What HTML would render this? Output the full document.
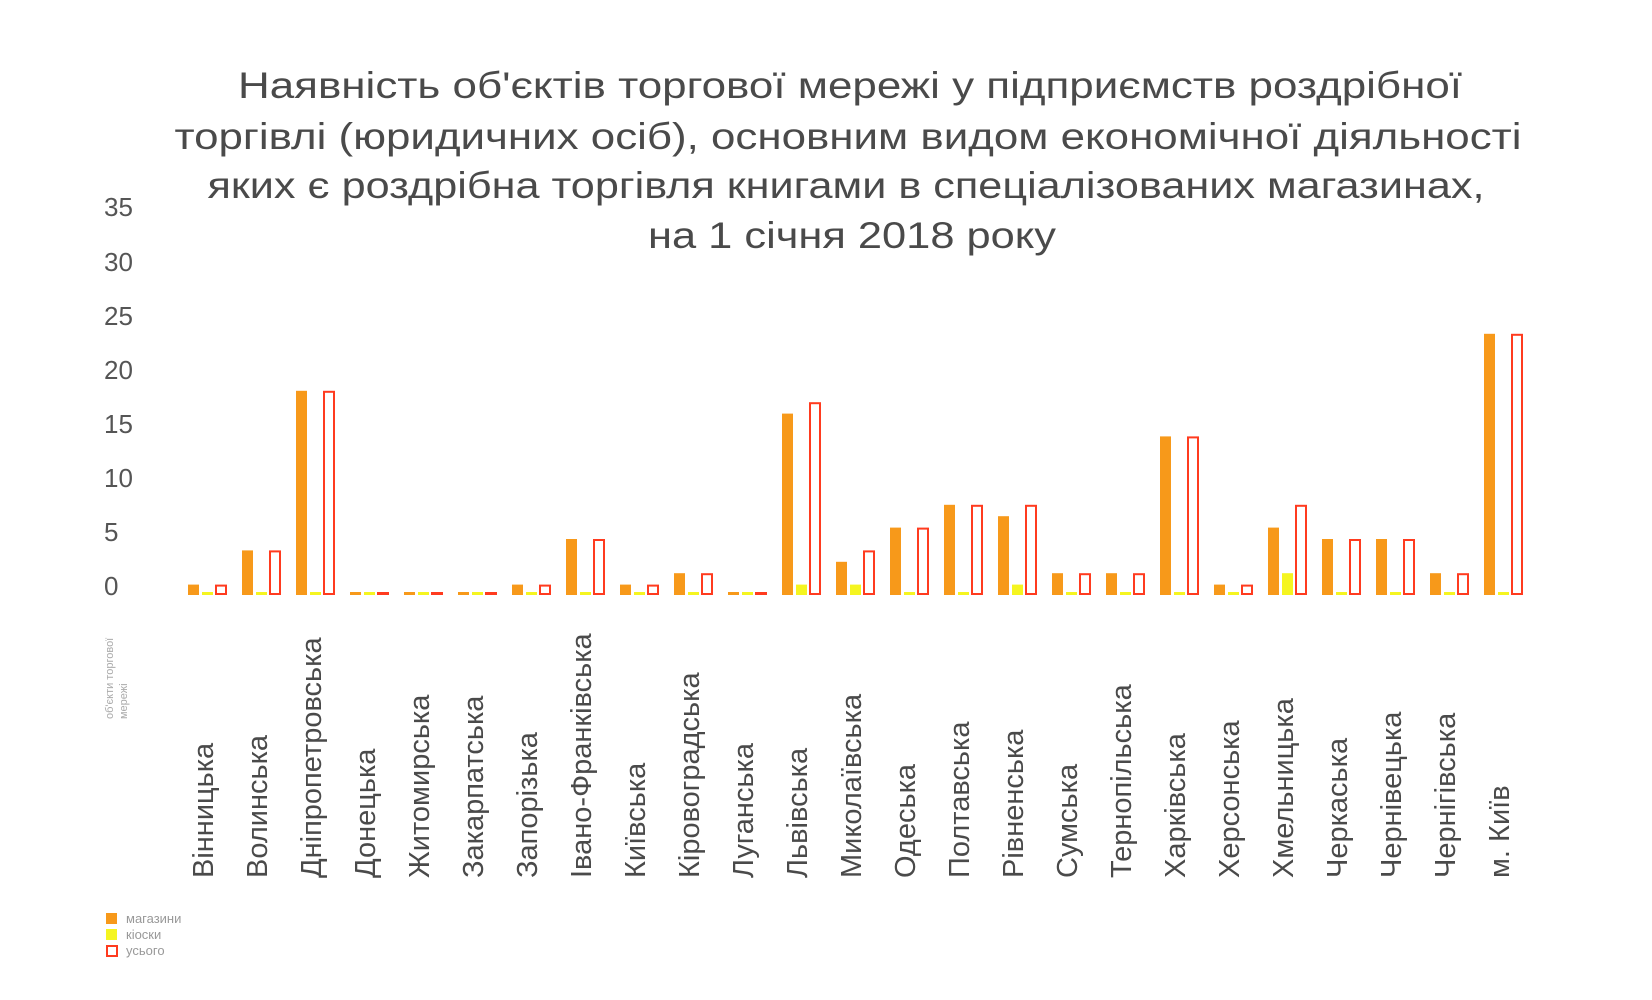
<!DOCTYPE html>
<html><head><meta charset="utf-8"><style>
html,body{margin:0;padding:0;background:#fff;overflow:hidden;}
svg{display:block;}
</style></head><body>
<svg width="1652" height="1000" viewBox="0 0 1652 1000" xmlns="http://www.w3.org/2000/svg" font-family="Liberation Sans, DejaVu Sans, sans-serif">
<g fill="#4a4a4a" font-size="37" text-anchor="middle">
<text x="850" y="98" textLength="1224" lengthAdjust="spacingAndGlyphs">Наявність об'єктів торгової мережі у підприємств роздрібної</text>
<text x="848" y="149" textLength="1347" lengthAdjust="spacingAndGlyphs">торгівлі (юридичних осіб), основним видом економічної діяльності</text>
<text x="846" y="198" textLength="1277" lengthAdjust="spacingAndGlyphs">яких є роздрібна торгівля книгами в спеціалізованих магазинах,</text>
<text x="852" y="248" textLength="408" lengthAdjust="spacingAndGlyphs">на 1 січня 2018 року</text>
</g>
<g fill="#555" font-size="26">
<text x="104" y="216">35</text>
<text x="104" y="271">30</text>
<text x="104" y="325">25</text>
<text x="104" y="379">20</text>
<text x="104" y="433">15</text>
<text x="104" y="487">10</text>
<text x="104" y="541">5</text>
<text x="104" y="595">0</text>
</g>
<g fill="#aaa" font-size="11">
<text transform="translate(113,719) rotate(-90)">об'єкти торгової</text>
<text transform="translate(127,719) rotate(-90)">мережі</text>
</g>
<g id="bars"></g>
<g id="labels" fill="#4a4a4a" font-size="29" text-anchor="start"></g>
<rect x="106" y="913" width="11" height="11" fill="#f7991a"/>
<rect x="106" y="929" width="11" height="11" fill="#f5f520"/>
<rect x="107" y="946" width="10" height="10" fill="none" stroke="#ff3b1f" stroke-width="2"/>
<g fill="#999" font-size="13">
<text x="126" y="923">магазини</text>
<text x="126" y="939">кіоски</text>
<text x="126" y="955">усього</text>
</g>
<script>
var d=[["Вінницька",1,0,1],["Волинська",4,0,4],["Дніпропетровська",18,0,18],["Донецька",0,0,0],["Житомирська",0,0,0],["Закарпатська",0,0,0],["Запорізька",1,0,1],["Івано-Франківська",5,0,5],["Київська",1,0,1],["Кіровоградська",2,0,2],["Луганська",0,0,0],["Львівська",16,1,17],["Миколаївська",3,1,4],["Одеська",6,0,6],["Полтавська",8,0,8],["Рівненська",7,1,8],["Сумська",2,0,2],["Тернопільська",2,0,2],["Харківська",14,0,14],["Херсонська",1,0,1],["Хмельницька",6,2,8],["Черкаська",5,0,5],["Чернівецька",5,0,5],["Чернігівська",2,0,2],["м. Київ",23,0,23]];
var ns="http://www.w3.org/2000/svg",B=document.getElementById("bars"),L=document.getElementById("labels");
function h(v){return Math.max(3,11.4*v-1);}
function r(x,y,w,hh,a){var e=document.createElementNS(ns,"rect");e.setAttribute("x",x);e.setAttribute("y",y);e.setAttribute("width",w);e.setAttribute("height",hh);for(var k in a)e.setAttribute(k,a[k]);B.appendChild(e);}
var base=595;
d.forEach(function(g,i){var x=188+54*i;
r(x,base-h(g[1]),11,h(g[1]),{fill:"#f7991a"});
r(x+14,base-h(g[2]),11,h(g[2]),{fill:"#f5f520"});
var t=h(g[3]);r(x+28,base-t+1,10,Math.max(1,t-2),{fill:"none",stroke:"#ff3b1f","stroke-width":2});
var tx=document.createElementNS(ns,"text");tx.setAttribute("transform","translate("+(x+25)+",878) rotate(-90)");tx.textContent=g[0];L.appendChild(tx);});
</script>
</svg>
</body></html>
